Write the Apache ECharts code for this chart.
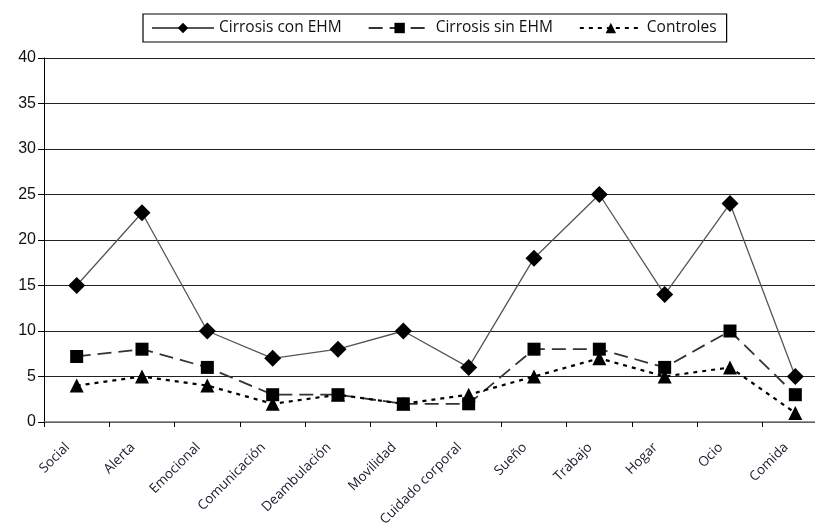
<!DOCTYPE html>
<html><head><meta charset="utf-8">
<script src="https://cdn.jsdelivr.net/npm/echarts@6/dist/echarts.min.js"></script>
<style>html,body{margin:0;padding:0;background:#fff;overflow:hidden}#c{width:830px;height:524px}</style>
</head><body><div id="c"></div>
<script>
var categories = ["Social","Alerta","Emocional","Comunicación","Deambulación","Movilidad","Cuidado corporal","Sueño","Trabajo","Hogar","Ocio","Comida"];
var conEHM = [15,23,10,7,8,10,6,18,25,14,24,5];
var sinEHM = [7.2,8,6,3,3,2,2,8,8,6,10,3];
var controles = [4,5,4,2,3,2,3,5,7,5,6,1];
var yTicks = [0,5,10,15,20,25,30,35,40];

var chart = echarts.init(document.getElementById('c'));
chart.setOption({
  animation:false,
  backgroundColor:'#fff',
  legend:{
    left:143, top:14, padding:[6,10,6,8],
    borderColor:'#000', borderWidth:1.2,
    itemWidth:62, itemHeight:13, itemGap:26,
    textStyle:{fontFamily:'Open Sans, Noto Sans, sans-serif', fontSize:15.5, color:'#111'},
    data:['Cirrosis con EHM','Cirrosis sin EHM','Controles']
  },
  grid:{left:44, top:58, width:784, height:364, containLabel:false, outerBoundsMode:'none'},
  xAxis:{
    type:'category', data:categories, boundaryGap:true,
    axisLine:{lineStyle:{color:'#777', width:1.5}},
    axisTick:{show:true, length:5, lineStyle:{color:'#000'}},
    axisLabel:{rotate:45, fontFamily:'Open Sans, Noto Sans, sans-serif', fontSize:13.5, color:'#1a1a2a', margin:14, padding:[0,13,0,0], interval:0}
  },
  yAxis:{
    type:'value', min:yTicks[0], max:yTicks[yTicks.length-1], interval:5,
    axisLine:{show:true, lineStyle:{color:'#000', width:1}},
    axisTick:{show:true, length:6, lineStyle:{color:'#000'}},
    axisLabel:{fontFamily:'Liberation Sans, Arial, sans-serif', fontSize:16, color:'#111', margin:8},
    splitLine:{lineStyle:{color:'#222', width:1}}
  },
  series:[
    {name:'Cirrosis con EHM', type:'line', data:conEHM, symbol:'diamond', symbolSize:17,
     itemStyle:{color:'#000'}, lineStyle:{color:'#555', width:1.3, type:'solid'}},
    {name:'Cirrosis sin EHM', type:'line', data:sinEHM, symbol:'rect', symbolSize:13,
     itemStyle:{color:'#000'}, lineStyle:{color:'#333', width:1.8, type:[14,7]}},
    {name:'Controles', type:'line', data:controles, symbol:'triangle', symbolSize:14,
     itemStyle:{color:'#000'}, lineStyle:{color:'#000', width:2.2, type:[4,5]}}
  ]
});
</script></body></html>
